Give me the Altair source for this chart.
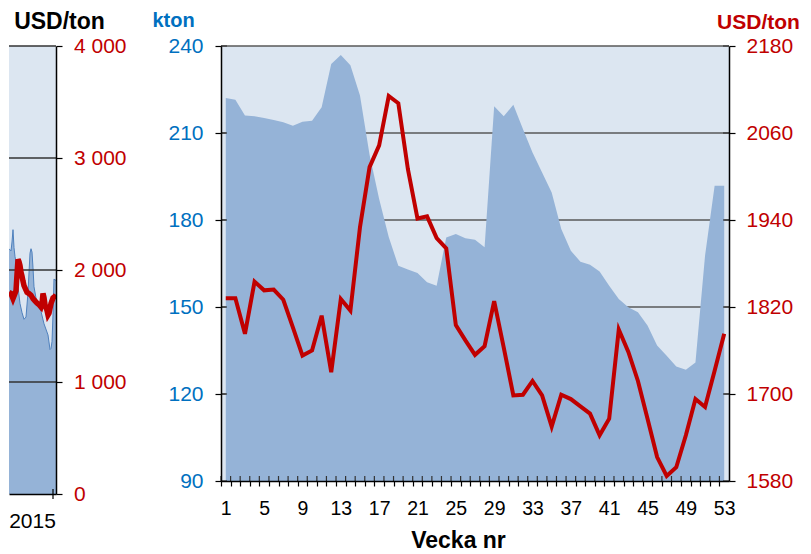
import altair as alt
import pandas as pd

FONT = "Liberation Sans"
RED = "#c00000"
BLUE_TXT = "#0070c0"
AREA = "#95b3d7"
BG = "#dce6f1"
GRID = "#595959"

# ---------------- right panel data ----------------
weeks = list(range(1, 54))
kton = [222.1, 221.5, 216.0, 215.8, 215.2, 214.5, 213.7, 212.5, 213.9, 214.2,
        218.9, 233.8, 236.9, 233.4, 222.9, 202.5, 187.2, 174.1, 164.2, 162.9,
        161.7, 158.5, 157.3, 174.0, 175.2, 173.7, 173.2, 170.6, 219.2, 215.8,
        219.7, 211.4, 203.3, 196.4, 189.5, 176.9, 169.4, 165.6, 164.6, 162.2,
        157.3, 152.8, 149.9, 148.2, 143.6, 136.7, 133.2, 129.5, 128.4, 130.9,
        167.7, 191.8, 191.8]
price = [1832, 1832, 1783, 1855, 1843, 1844, 1830, 1792, 1753, 1760,
         1808, 1730, 1831, 1815, 1930, 2013, 2043, 2111, 2101, 2010,
         1942, 1945, 1915, 1901, 1795, 1774, 1754, 1766, 1828, 1764,
         1698, 1699, 1718, 1698, 1655, 1699, 1693, 1683, 1673, 1643,
         1666, 1789, 1758, 1718, 1666, 1613, 1587, 1599, 1643, 1693,
         1682, 1732, 1783]
kton_ticks = [90, 120, 150, 180, 210, 240]
kton_grid = [120, 150, 180, 210, 240]
usd_ticks = [1580, 1700, 1820, 1940, 2060, 2180]

# ---------------- left panel data (tail of long series) ----------------
left_weeks = [8, 10, 12, 14, 15, 16, 17, 18, 19, 20, 21, 22, 23, 24, 26, 28,
              30, 32, 34, 36, 38, 40, 41, 42, 43, 44, 46, 47, 48, 50, 52, 54, 55]
left_price = [1800, 1790, 1745, 1790, 1815, 1960, 2095, 2075, 2040, 1980, 1945,
              1900, 1860, 1840, 1800, 1790, 1775, 1745, 1725, 1705, 1690, 1670,
              1700, 1790, 1755, 1690, 1640, 1600, 1615, 1700, 1750, 1765, 1780]
left_area_weeks = [8, 10, 11, 12, 13, 14, 15, 17, 19, 21, 23, 25, 27, 29, 30, 31,
                   32, 33, 35, 37, 40, 43, 47, 49, 50, 51, 52, 53, 54, 55]
left_area_kton = [219, 217, 225, 236, 220, 212, 207, 185, 170, 162, 156, 158,
                  180, 215, 219, 216, 202, 185, 175, 168, 163, 152, 142, 129,
                  130, 136, 160, 192, 191, 191]
left_usd_ticks = [0, 1000, 2000, 3000, 4000]
left_grid = [1000, 2000, 3000, 4000]
year_label_pos = [31]
year_end = [52]

# ---------------- right panel ----------------
W, H = 508, 435
step = W / 53.0
TOPSHIFT = 2
xscale = alt.Scale(domain=[0.5, 53.5], nice=False)
xaxis = alt.Axis(values=weeks, tickOffset=-step / 2, labelOffset=step / 2,
                 labelExpr="(datum.value - 1) % 4 == 0 ? datum.label : ''",
                 labelOverlap=False, labelFlush=False, tickSize=5, tickColor="black",
                 tickWidth=1.2, domainColor="black", domainWidth=1.5,
                 labelFontSize=19.5, labelColor="black", labelPadding=13,
                 title="Vecka nr", titleFontSize=23, titleFontWeight="bold",
                 titleColor="black", titleX=237, titleY=66, titleBaseline="alphabetic",
                 titleAlign="center", grid=False, zindex=1)
kscale = alt.Scale(domain=[90, 240], nice=False, zero=False)
kaxis = alt.Axis(orient="left", values=kton_ticks, tickSize=6, tickColor="black",
                 tickWidth=1.2, domainColor="black", domainWidth=1.5,
                 labelFontSize=21, labelColor=BLUE_TXT, labelPadding=12,
                 title="kton", titleFontSize=20, titleFontWeight="bold",
                 titleColor=BLUE_TXT, titleAngle=0, titleX=-48, titleY=-22 + TOPSHIFT,
                 titleAlign="center", titleBaseline="alphabetic", grid=False, zindex=1)
uscale = alt.Scale(domain=[1580, 2180], nice=False, zero=False)
uaxis = alt.Axis(orient="right", values=usd_ticks, format="d", tickSize=6,
                 tickColor="black", tickWidth=1.2, domainColor="black", domainWidth=1.5,
                 labelFontSize=21, labelColor=RED, labelPadding=11,
                 title="USD/ton", titleFontSize=21, titleFontWeight="bold",
                 titleColor=RED, titleAngle=0, titleX=29, titleY=-20 + TOPSHIFT,
                 titleAlign="center", titleBaseline="alphabetic", grid=False, zindex=1)

df = pd.DataFrame({"week": weeks, "kton": kton, "price": price})

r_grid = alt.Chart(pd.DataFrame({"v": kton_grid})).mark_rule(
    color=GRID, strokeWidth=1.5).encode(y=alt.Y("v:Q", scale=kscale, axis=None))
r_area = alt.Chart(df).mark_area(color=AREA, opacity=1).encode(
    x=alt.X("week:Q", scale=xscale, axis=xaxis),
    y=alt.Y("kton:Q", scale=kscale, axis=kaxis),
    y2=alt.Y2Datum(90))
r_xticks = alt.Chart(df).transform_calculate(b="datum.week - 0.5").mark_rule(
    color="#333333", strokeWidth=1.2).encode(
    x=alt.X("b:Q", scale=xscale, axis=xaxis),
    y=alt.value(H - 5), y2=alt.value(H))
r_kticks = alt.Chart(pd.DataFrame({"v": kton_ticks})).mark_rule(
    color="#333333", strokeWidth=1.2).encode(
    y=alt.Y("v:Q", scale=kscale, axis=None), x=alt.value(0), x2=alt.value(6))
r_uticks = alt.Chart(pd.DataFrame({"v": usd_ticks})).mark_rule(
    color="#333333", strokeWidth=1.2).encode(
    y=alt.Y("v:Q", scale=uscale, axis=None), x=alt.value(W - 6), x2=alt.value(W))
r_line = alt.Chart(df).mark_line(color=RED, strokeWidth=4).encode(
    x=alt.X("week:Q", scale=xscale, axis=xaxis),
    y=alt.Y("price:Q", scale=uscale, axis=uaxis))

right = alt.layer(r_grid, r_area, r_xticks, r_kticks, r_uticks, r_line).resolve_scale(
    y="independent").properties(width=W, height=H)

# ---------------- left panel ----------------
LW, LH = 47, 448
lxscale = alt.Scale(domain=[8, 55], nice=False)
lxaxis = alt.Axis(values=year_label_pos, labelExpr="'2015'", ticks=False,
                  domainColor="black", domainWidth=1.5, labelFontSize=21,
                  labelColor="black", labelPadding=16, labelFlush=False,
                  labelOverlap=False, title=None, grid=False, zindex=1)
lascale = alt.Scale(domain=[0, 400], nice=False, zero=True)
luscale = alt.Scale(domain=[0, 4000], nice=False)
luaxis = alt.Axis(orient="right", values=left_usd_ticks,
                  labelExpr="replace(format(datum.value, ','), ',', ' ')",
                  tickSize=6, tickColor="black", tickWidth=1.2, domainColor="black",
                  domainWidth=1.5, labelFontSize=21, labelColor=RED, labelPadding=11.5,
                  title="USD/ton", titleFontSize=23, titleFontWeight="bold",
                  titleColor="black", titleAngle=0, titleX=3, titleY=-20 + TOPSHIFT,
                  titleAlign="center", titleBaseline="alphabetic", grid=False, zindex=1)

ldf_a = pd.DataFrame({"w": left_area_weeks, "k": left_area_kton})
ldf_p = pd.DataFrame({"w": left_weeks, "p": left_price})

l_area = alt.Chart(ldf_a).mark_area(
    color=AREA, opacity=1, clip=True,
    line={"color": "#4f81bd", "strokeWidth": 1}).encode(
    x=alt.X("w:Q", scale=lxscale, axis=lxaxis),
    y=alt.Y("k:Q", scale=lascale, axis=None))
l_grid = alt.Chart(pd.DataFrame({"v": left_grid})).mark_rule(
    color="#333333", strokeWidth=1.3).encode(
    y=alt.Y("v:Q", scale=luscale, axis=None))
l_line = alt.Chart(ldf_p).mark_line(color=RED, strokeWidth=5.5, clip=True).encode(
    x=alt.X("w:Q", scale=lxscale, axis=lxaxis),
    y=alt.Y("p:Q", scale=luscale, axis=luaxis))
l_tick = alt.Chart(pd.DataFrame({"w": year_end})).mark_rule(
    color="black", strokeWidth=1.2).encode(
    x=alt.X("w:Q", scale=lxscale, axis=lxaxis),
    y=alt.value(LH - 5), y2=alt.value(LH + 5))

left = alt.layer(l_area, l_grid, l_line, l_tick).resolve_scale(
    y="independent").properties(width=LW, height=LH)

chart = alt.hconcat(left, right, spacing=165, bounds="flush").properties(
    padding={"left": 0, "top": TOPSHIFT, "right": 0, "bottom": 0}
).configure(font=FONT).configure_view(fill=BG, strokeWidth=0)

chart.save("out.html", embed_options={"renderer": "svg", "actions": False})
